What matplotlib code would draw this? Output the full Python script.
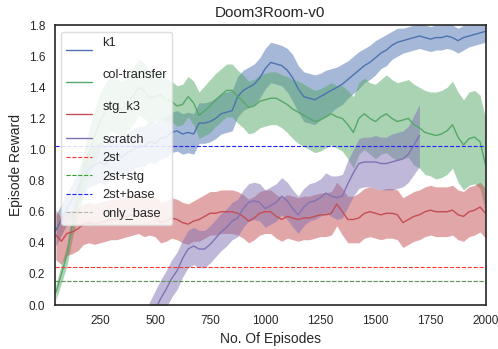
import numpy as np
import matplotlib
matplotlib.use("Agg")
import matplotlib.pyplot as plt
import seaborn as sns

# ---------------- data ----------------
episodes = list(range(50, 2001, 25))

k1_mean = [0.48, 0.55, 0.62, 0.68, 0.75, 0.82, 0.88, 0.90, 0.92, 0.90, 0.95, 0.96, 0.95,
           0.98, 1.00, 1.02, 1.02, 1.05, 1.04, 1.07, 1.08, 1.11, 1.12, 1.10, 1.11, 1.10,
           1.17, 1.17, 1.18, 1.20, 1.23, 1.24, 1.25, 1.34, 1.38, 1.40, 1.42, 1.46, 1.52,
           1.56, 1.55, 1.54, 1.51, 1.46, 1.39, 1.34, 1.33, 1.32, 1.34, 1.36, 1.38, 1.40,
           1.42, 1.45, 1.48, 1.51, 1.54, 1.56, 1.59, 1.62, 1.64, 1.67, 1.69, 1.70, 1.71,
           1.72, 1.73, 1.72, 1.71, 1.72, 1.72, 1.73, 1.72, 1.70, 1.72, 1.73, 1.74, 1.75, 1.76]
k1_spread = [0.10, 0.10, 0.10, 0.10, 0.11, 0.12, 0.12, 0.13, 0.13, 0.13, 0.13, 0.13, 0.13,
             0.13, 0.13, 0.13, 0.13, 0.13, 0.13, 0.13, 0.13, 0.13, 0.13, 0.13, 0.13, 0.13,
             0.13, 0.13, 0.13, 0.13, 0.13, 0.13, 0.13, 0.13, 0.13, 0.13, 0.13, 0.13, 0.13,
             0.13, 0.13, 0.13, 0.14, 0.15, 0.15, 0.16, 0.16, 0.16, 0.15, 0.15, 0.14, 0.13,
             0.13, 0.12, 0.12, 0.12, 0.11, 0.11, 0.11, 0.10, 0.10, 0.09, 0.09, 0.08, 0.08,
             0.08, 0.08, 0.08, 0.08, 0.08, 0.08, 0.08, 0.08, 0.08, 0.08, 0.07, 0.07, 0.07, 0.07]

col_mean = [0.08, 0.20, 0.32, 0.52, 0.68, 0.85, 0.98, 1.08, 1.18, 1.25, 1.30, 1.28, 1.26,
            1.30, 1.34, 1.40, 1.38, 1.33, 1.34, 1.35, 1.32, 1.31, 1.28, 1.29, 1.34, 1.30,
            1.22, 1.25, 1.28, 1.32, 1.35, 1.38, 1.38, 1.34, 1.31, 1.27, 1.28, 1.31, 1.32,
            1.33, 1.33, 1.31, 1.29, 1.26, 1.24, 1.22, 1.20, 1.18, 1.19, 1.21, 1.23, 1.21,
            1.20, 1.16, 1.11, 1.20, 1.23, 1.20, 1.18, 1.21, 1.23, 1.20, 1.18, 1.19, 1.20,
            1.16, 1.14, 1.11, 1.10, 1.09, 1.10, 1.12, 1.16, 1.08, 1.03, 1.07, 1.08, 1.05, 0.90]
col_spread = [0.05, 0.06, 0.07, 0.09, 0.11, 0.13, 0.15, 0.17, 0.18, 0.18, 0.18, 0.18, 0.18,
              0.18, 0.18, 0.18, 0.18, 0.17, 0.16, 0.15, 0.14, 0.13, 0.13, 0.13, 0.13, 0.14,
              0.15, 0.16, 0.17, 0.17, 0.17, 0.17, 0.17, 0.17, 0.17, 0.17, 0.17, 0.17, 0.17,
              0.17, 0.17, 0.17, 0.18, 0.19, 0.20, 0.20, 0.20, 0.20, 0.20, 0.20, 0.20, 0.20,
              0.21, 0.22, 0.23, 0.23, 0.23, 0.23, 0.24, 0.24, 0.25, 0.25, 0.25, 0.25, 0.25,
              0.26, 0.26, 0.27, 0.27, 0.28, 0.28, 0.28, 0.28, 0.29, 0.29, 0.30, 0.30, 0.30, 0.30]

stg_mean = [0.45, 0.41, 0.46, 0.47, 0.49, 0.52, 0.53, 0.52, 0.53, 0.54, 0.55, 0.55, 0.56,
            0.57, 0.58, 0.59, 0.57, 0.58, 0.57, 0.53, 0.54, 0.56, 0.55, 0.53, 0.52, 0.54,
            0.55, 0.57, 0.59, 0.59, 0.60, 0.60, 0.60, 0.59, 0.57, 0.54, 0.56, 0.59, 0.60,
            0.60, 0.57, 0.55, 0.57, 0.56, 0.55, 0.56, 0.56, 0.57, 0.58, 0.58, 0.59, 0.65,
            0.60, 0.55, 0.55, 0.56, 0.59, 0.60, 0.59, 0.58, 0.59, 0.59, 0.58, 0.53, 0.55,
            0.57, 0.58, 0.60, 0.61, 0.60, 0.60, 0.60, 0.61, 0.58, 0.57, 0.60, 0.61, 0.63, 0.59]
stg_spread = [0.16, 0.15, 0.14, 0.14, 0.14, 0.13, 0.13, 0.13, 0.13, 0.13, 0.13, 0.13, 0.13,
              0.13, 0.13, 0.13, 0.13, 0.13, 0.13, 0.13, 0.13, 0.13, 0.13, 0.13, 0.13, 0.13,
              0.14, 0.14, 0.14, 0.14, 0.14, 0.14, 0.14, 0.14, 0.14, 0.14, 0.14, 0.14, 0.14,
              0.14, 0.14, 0.14, 0.14, 0.14, 0.14, 0.14, 0.14, 0.14, 0.14, 0.14, 0.14, 0.14,
              0.15, 0.15, 0.15, 0.16, 0.16, 0.16, 0.16, 0.16, 0.16, 0.16, 0.16, 0.16, 0.16,
              0.16, 0.16, 0.16, 0.16, 0.16, 0.16, 0.16, 0.16, 0.16, 0.16, 0.16, 0.16, 0.16, 0.16]

scratch_episodes = list(range(450, 1701, 25))
scratch_mean = [-0.20, -0.10, -0.03, 0.04, 0.10, 0.17, 0.22, 0.30, 0.36, 0.38, 0.36, 0.36,
                0.39, 0.43, 0.47, 0.50, 0.54, 0.56, 0.62, 0.66, 0.67, 0.66, 0.62, 0.64,
                0.66, 0.70, 0.67, 0.62, 0.58, 0.63, 0.66, 0.67, 0.69, 0.72, 0.70, 0.69,
                0.70, 0.78, 0.85, 0.91, 0.92, 0.92, 0.92, 0.91, 0.91, 0.92, 0.93, 0.94,
                0.97, 1.03, 1.09]
scratch_spread = [0.12, 0.12, 0.12, 0.12, 0.12, 0.12, 0.12, 0.12, 0.12, 0.12, 0.12, 0.12,
                  0.12, 0.12, 0.12, 0.12, 0.12, 0.12, 0.12, 0.12, 0.12, 0.12, 0.12, 0.12,
                  0.12, 0.12, 0.12, 0.12, 0.12, 0.12, 0.12, 0.12, 0.12, 0.13, 0.13, 0.14,
                  0.14, 0.15, 0.15, 0.16, 0.16, 0.16, 0.17, 0.17, 0.17, 0.18, 0.18, 0.18,
                  0.18, 0.19, 0.20]

baseline_names = ["2st", "2st+stg", "2st+base", "only_base"]
baseline_values = [0.245, 0.155, 1.02, 0.155]
baseline_colors = ["#ff3333", "#2ca02c", "#2222ff", "#888888"]

series_labels = ["k1\n", "col-transfer\n", "stg_k3\n", "scratch"]

# ---------------- plot ----------------
sns.set_style("white")
plt.rcParams["font.family"] = ["Liberation Sans", "DejaVu Sans"]
palette = sns.color_palette("deep")
colors = [palette[0], palette[2], palette[3], palette[4]]

fig = plt.figure(figsize=(4.98, 3.49), dpi=100)
ax = fig.add_axes([0.110, 0.126, 0.865, 0.802])

series = [
    (episodes, k1_mean, k1_spread),
    (episodes, col_mean, col_spread),
    (episodes, stg_mean, stg_spread),
    (scratch_episodes, scratch_mean, scratch_spread),
]
for (xs, m, s), lab, c in zip(series, series_labels, colors):
    xs = np.array(xs)
    m = np.array(m)
    s = np.array(s)
    ax.fill_between(xs, m - s, m + s, color=c, alpha=0.5, linewidth=0)
    ax.plot(xs, m, color=c, lw=1.0, label=lab)

baseline_alpha = [1.0, 1.0, 1.0, 0.6]
for name, val, c, a in zip(baseline_names, baseline_values, baseline_colors, baseline_alpha):
    ax.axhline(val, color=c, ls="--", lw=0.8, alpha=a, label=name)

ax.set_xlim(45, 2000)
ax.set_ylim(0, 1.8)
ax.set_xticks([250, 500, 750, 1000, 1250, 1500, 1750, 2000])
ax.set_yticks([0.0, 0.2, 0.4, 0.6, 0.8, 1.0, 1.2, 1.4, 1.6, 1.8])
ax.tick_params(labelsize=8.5, colors=".15")
for sp in ax.spines.values():
    sp.set_color(".15")
    sp.set_linewidth(1.2)

ax.set_title("Doom3Room-v0", fontsize=11, color=".15")
ax.set_xlabel("No. Of Episodes", fontsize=10, color=".15")
ax.set_ylabel("Episode Reward", fontsize=10, color=".15")

leg = ax.legend(loc="upper left", fontsize=9.3, frameon=True, framealpha=0.85,
                labelspacing=0.5, handlelength=2.0, handletextpad=0.8,
                borderaxespad=0.5, facecolor="white", edgecolor="0.85")
leg.set_zorder(10)

fig.savefig("out.png", dpi=100)
